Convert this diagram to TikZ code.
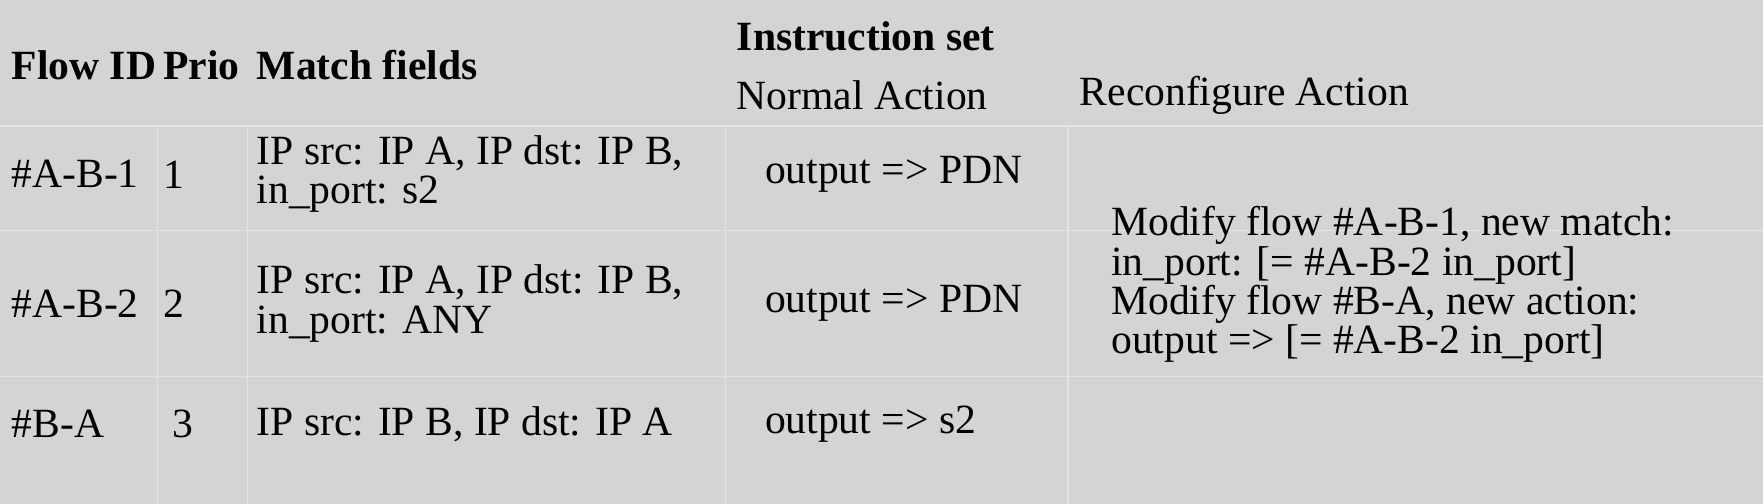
\documentclass[tikz,border=0pt]{standalone}
\usepackage{fontspec}
\setmainfont{Liberation Serif}
\begin{document}
\begin{tikzpicture}[x=0.5pt,y=-0.5pt,
  txt/.style={anchor=west,inner sep=0pt,align=left,font=\fontsize{18.5}{17.5}\selectfont},
  hdr/.style={txt,font=\fontsize{18.5}{17.5}\selectfont\bfseries},
  sep/.style={black!11,line width=0.6pt}]
\fill[black!17] (0,0) rectangle (1568,448);
\useasboundingbox (0,0) rectangle (1568,448);
\draw[sep] (0,112) -- (1568,112);
\draw[sep] (0,205) -- (1568,205);
\draw[sep] (0,335) -- (1568,335);
\draw[sep] (140,112) -- (140,448);
\draw[sep] (220,112) -- (220,448);
\draw[sep] (645,112) -- (645,448);
\draw[sep] (950,112) -- (950,448);
\node[hdr] (hset) at (655,32) {Instruction set};
\node[hdr] (hid) at (10,58) {Flow ID};
\node[hdr] (hprio) at (145,58) {Prio};
\node[hdr] (hmatch) at (228,58) {Match fields};
\node[txt] (hna) at (655,85) {Normal Action};
\node[txt] (hra) at (960,85) {Reconfigure Action};
\node[txt] (id1) at (10,155) {\#A-B-1};
\node[txt] (p1) at (145,155) {1};
\node[txt] (m1) at (228,155) {IP src: IP A, IP dst: IP B,\\in\_port: s2};
\node[txt] (n1) at (680,155) {output => PDN};
\node[txt] (id2) at (10,270) {\#A-B-2};
\node[txt] (p2) at (145,270) {2};
\node[txt] (m2) at (228,270) {IP src: IP A, IP dst: IP B,\\in\_port: ANY};
\node[txt] (n2) at (680,270) {output => PDN};
\node[txt] (r2) at (988,253) {Modify flow \#A-B-1, new match:\\in\_port: [= \#A-B-2 in\_port]\\Modify flow \#B-A, new action:\\output => [= \#A-B-2 in\_port]};
\node[txt] (id3) at (10,377) {\#B-A};
\node[txt] (p3) at (153,377) {3};
\node[txt] (m3) at (228,377) {IP src: IP B, IP dst: IP A};
\node[txt] (n3) at (680,377) {output => s2};
\end{tikzpicture}
\end{document}
